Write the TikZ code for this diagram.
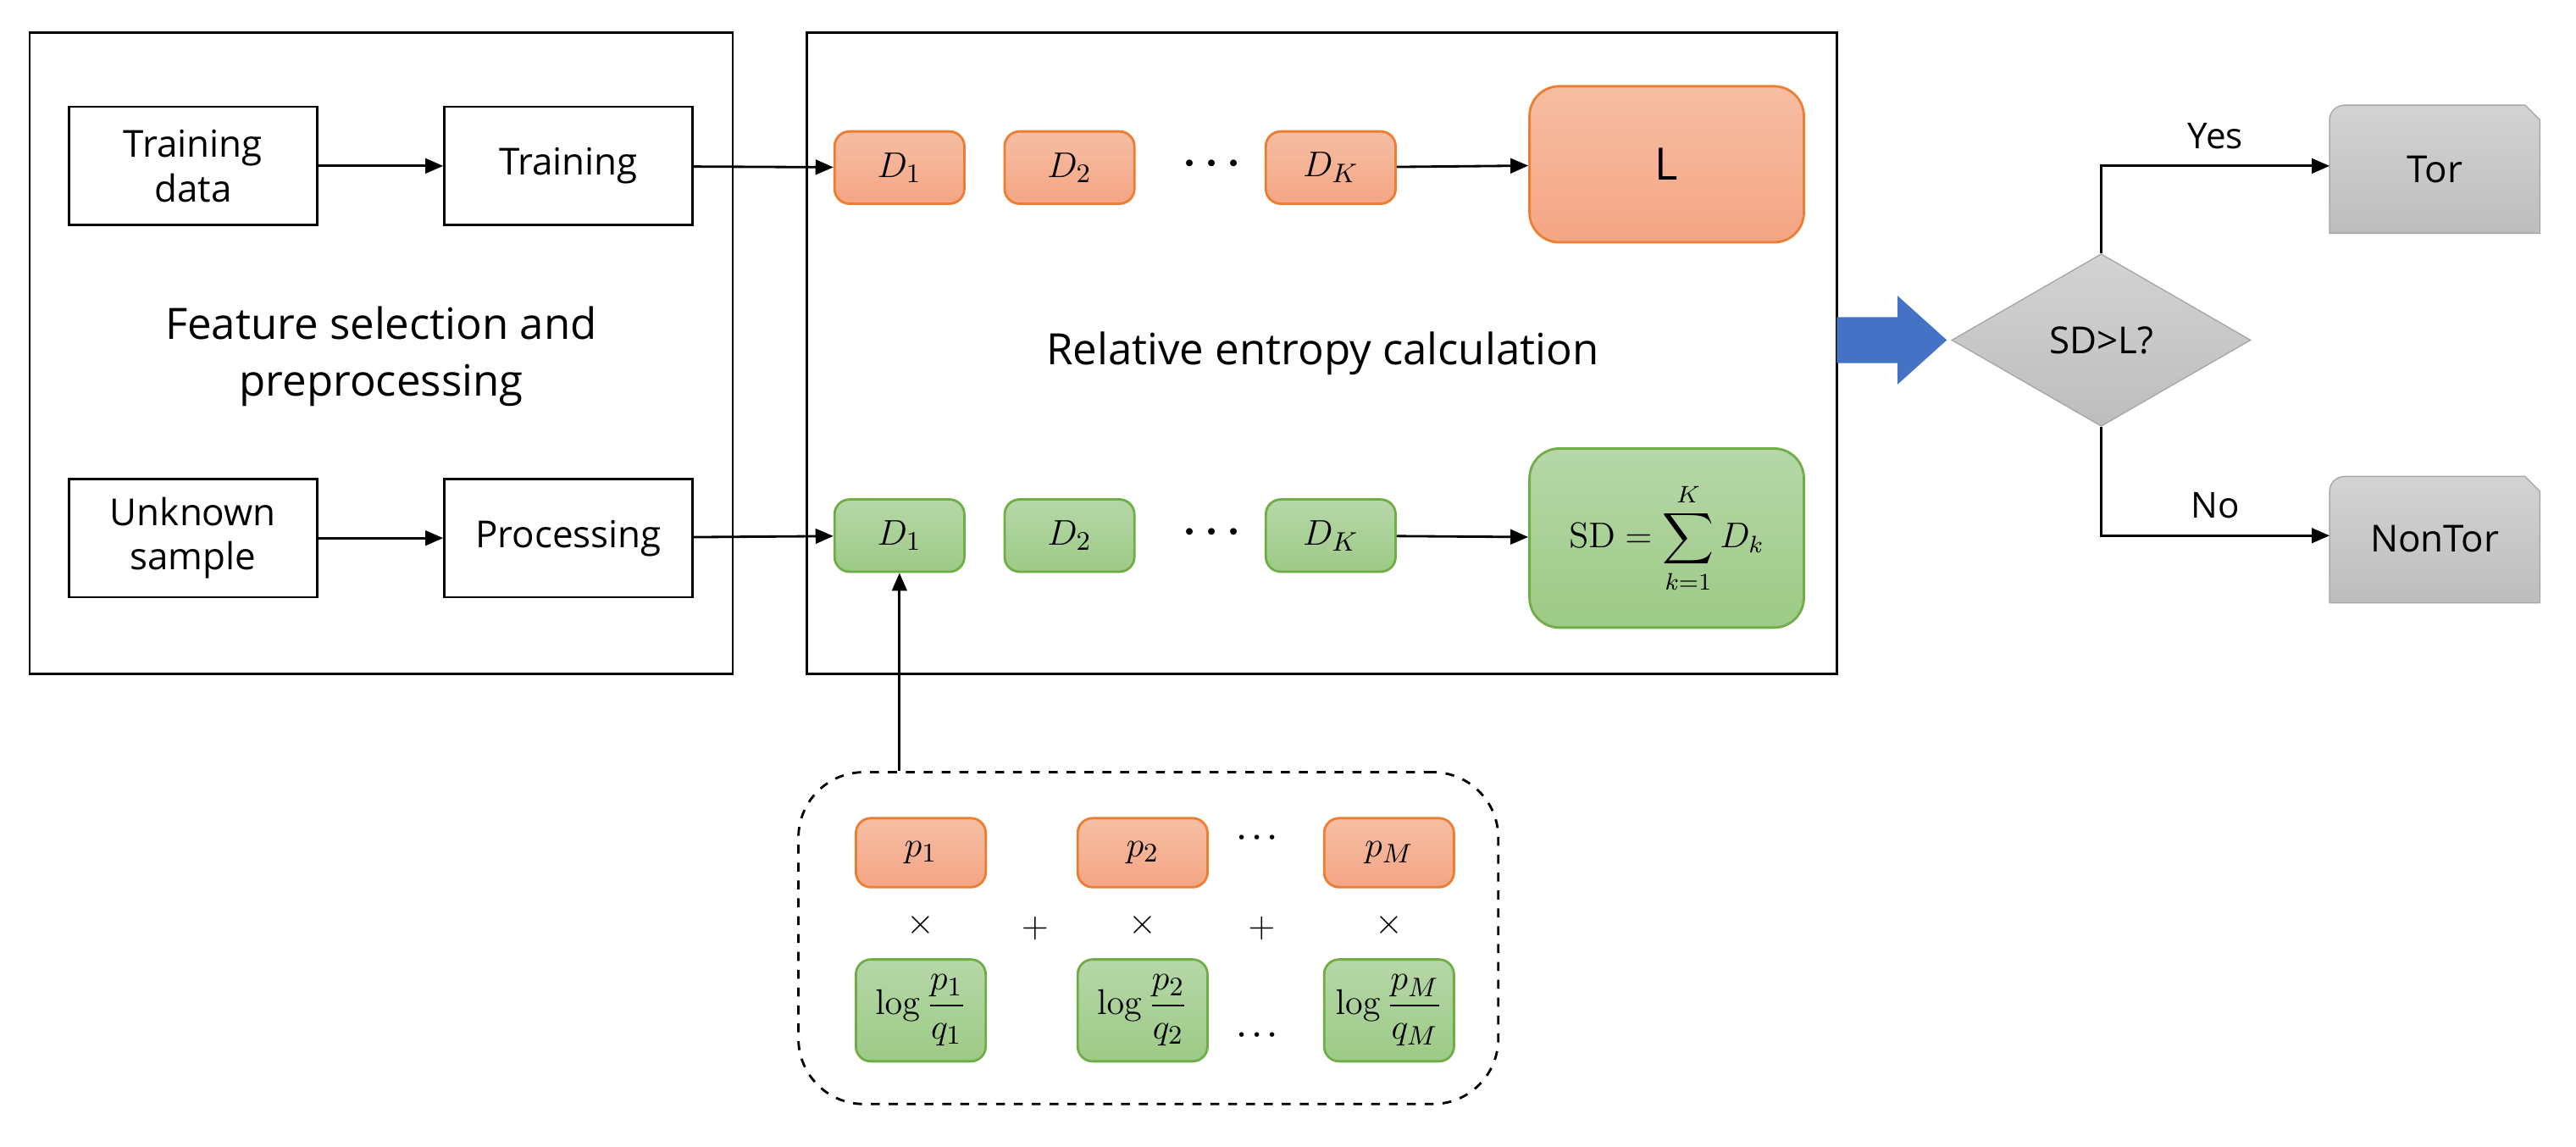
\documentclass[tikz,border=0pt]{standalone}
\usepackage{amsmath,bm}
\usepackage[no-math]{fontspec}
\setmainfont{Open Sans}
\usetikzlibrary{shapes.geometric,arrows.meta}
\definecolor{orT}{HTML}{F6BEA3}\definecolor{orB}{HTML}{F4A584}\definecolor{orD}{HTML}{ED7D31}
\definecolor{grT}{HTML}{B6D7A8}\definecolor{grB}{HTML}{9DCA86}\definecolor{grD}{HTML}{70AD47}
\definecolor{gyT}{HTML}{D3D3D3}\definecolor{gyB}{HTML}{BDBDBD}\definecolor{gyD}{HTML}{A8A8A8}
\definecolor{blu}{HTML}{4472C4}
\def\uu{0.0194cm}
\tikzset{
 wbox/.style={draw,thick,minimum width=151*\uu,minimum height=72*\uu,align=center,font=\fontsize{12.5}{15}\selectfont,inner sep=1pt},
 ob/.style={draw=orD,thick,rounded corners=5pt,top color=orT,bottom color=orB,minimum width=79*\uu,minimum height=44*\uu,font=\fontsize{13}{15}\selectfont},
 gb/.style={draw=grD,thick,rounded corners=5pt,top color=grT,bottom color=grB,minimum width=79*\uu,minimum height=44*\uu,font=\fontsize{13}{15}\selectfont},
 arr/.style={-{Triangle[length=6pt,width=5pt]},thick},
 lbl/.style={font=\fontsize{12}{14}\selectfont},
 dots/.style={font=\Large},
}
\begin{document}
\begin{tikzpicture}[x=\uu,y=-\uu]
\useasboundingbox (0,0) rectangle (1568,698);
% containers
\node[draw,thick,minimum width=428*\uu,minimum height=390*\uu] (left) at (232,215) {};
\node[draw,thick,minimum width=627*\uu,minimum height=390*\uu] (mid) at (804.5,215) {};
\node[align=center,font=\fontsize{14.5}{19}\selectfont] (fs) at (232,217) {Feature selection and\\preprocessing};
\node[font=\fontsize{14.5}{17}\selectfont] (rec) at (805,215) {Relative entropy calculation};
% left boxes
\node[wbox] (td) at (117.5,101) {Training\\data};
\node[wbox] (tr) at (346,101) {Training};
\node[wbox] (us) at (117.5,327.5) {Unknown\\sample};
\node[wbox] (pr) at (346,327.5) {Processing};
% orange row
\node[ob] (o1) at (547.5,102) {$D_1$};
\node[ob] (o2) at (651,102) {$D_2$};
\node[dots] (od) at (740,100) {$\bm{\cdots}$};
\node[ob] (ok) at (810,102) {$D_K$};
\node[ob,minimum width=167*\uu,minimum height=95*\uu,rounded corners=10pt,font=\fontsize{15}{17}\selectfont] (L) at (1014.5,100) {L};
% green row
\node[gb] (g1) at (547.5,326) {$D_1$};
\node[gb] (g2) at (651,326) {$D_2$};
\node[dots] (gd) at (740,324) {$\bm{\cdots}$};
\node[gb] (gk) at (810,326) {$D_K$};
\node[gb,minimum width=167*\uu,minimum height=109*\uu,rounded corners=10pt,font=\fontsize{12}{14}\selectfont] (SD) at (1014.5,327.5) {$\mathrm{SD}=\displaystyle\sum_{k=1}^{K} D_k$};
% arrows
\draw[arr] (tr) -- (o1);
\draw[arr] (td) -- (tr);
\draw[arr] (us) -- (pr);
\draw[arr] (pr) -- (g1);
\draw[arr] (ok) -- (L);
\draw[arr] (gk) -- (SD);
% bottom dashed box
\node[draw,thick,dashed,rounded corners=22pt,minimum width=426*\uu,minimum height=202*\uu] (dash) at (699,571) {};
\draw[arr] (dash.north -| g1) -- (g1);
\node[ob,minimum height=42*\uu] (p1) at (560.5,519) {$p_1$};
\node[ob,minimum height=42*\uu] (p2) at (695.5,519) {$p_2$};
\node[ob,minimum height=42*\uu] (pM) at (845.5,519) {$p_M$};
\node[font=\large] (t1) at (560.5,563) {$\times$};
\node[font=\large] (t2) at (695.5,563) {$\times$};
\node[font=\large] (t3) at (845.5,563) {$\times$};
\node[font=\large] (pl1) at (630,565) {$+$};
\node[font=\large] (pl2) at (768,565) {$+$};
\node (dd1) at (767,510) {$\bm{\cdots}$};
\node (dd2) at (767,630) {$\bm{\cdots}$};
\node[gb,minimum height=62*\uu,inner sep=0pt] (l1) at (560.5,615) {$\log\dfrac{p_1}{q_1}$};
\node[gb,minimum height=62*\uu,inner sep=0pt] (l2) at (695.5,615) {$\log\dfrac{p_2}{q_2}$};
\node[gb,minimum height=62*\uu,inner sep=0pt] (l3) at (845.5,615) {$\log\dfrac{p_M}{q_M}$};
% blue arrow
\fill[blu] (1118,193) -- (1155,193) -- (1155,180) -- (1185,207) -- (1155,234) -- (1155,221) -- (1118,221) -- cycle;
% decision
\node[diamond,aspect=1.75,draw=gyD,top color=gyT,bottom color=gyB,minimum width=182*\uu,minimum height=105*\uu,inner sep=0pt,font=\fontsize{12.5}{15}\selectfont] (dec) at (1279,207) {SD>L?};
% Tor boxes
\shade[top color=gyT,bottom color=gyB,draw=gyD] (1418,142) [rounded corners=5pt] -- (1418,64) [sharp corners] -- (1537,64) -- (1546,73) -- (1546,142) -- cycle;
\node[font=\fontsize{12.5}{15}\selectfont] (tor) at (1482,103) {Tor};
\shade[top color=gyT,bottom color=gyB,draw=gyD] (1418,367) [rounded corners=5pt] -- (1418,290) [sharp corners] -- (1537,290) -- (1546,299) -- (1546,367) -- cycle;
\node[font=\fontsize{12.5}{15}\selectfont] (ntor) at (1482,328) {NonTor};
\coordinate (torw) at (1418,101);
\coordinate (ntorw) at (1418,326);
\draw[arr] (dec.north) |- (torw) node[lbl,pos=0.75,above=2pt] {Yes};
\draw[arr] (dec.south) |- (ntorw) node[lbl,pos=0.75,above=2pt] {No};
\end{tikzpicture}
\end{document}
